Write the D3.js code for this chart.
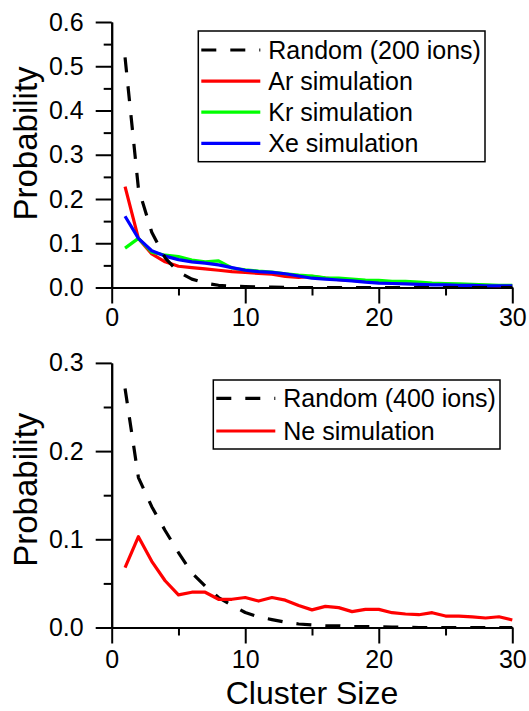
<!DOCTYPE html>
<html><head><meta charset="utf-8">
<script src="https://cdn.jsdelivr.net/npm/d3@7"></script>
<style>body{margin:0;background:#fff} text{font-family:"Liberation Sans",Arial,sans-serif;fill:#000}</style>
</head><body><svg id="c" width="529" height="711"></svg>
<script>
const clusterSizes = d3.range(1, 31);
const random200 = [0.52,0.224,0.125,0.067,0.035,0.019,0.010,0.005,0.003,0.002,0.001,0.001,0.0005,0,0,0,0,0,0,0,0,0,0,0,0,0,0,0,0,0];
const arSim = [0.228,0.111,0.076,0.058,0.048,0.045,0.042,0.039,0.036,0.034,0.032,0.030,0.025,0.023,0.025,0.021,0.018,0.016,0.014,0.013,0.012,0.011,0.010,0.008,0.007,0.006,0.005,0.005,0.004,0.004];
const krSim = [0.089,0.111,0.080,0.073,0.070,0.062,0.058,0.060,0.044,0.040,0.037,0.035,0.031,0.028,0.026,0.022,0.021,0.019,0.017,0.016,0.014,0.014,0.012,0.010,0.009,0.008,0.007,0.006,0.005,0.005];
const xeSim = [0.161,0.111,0.083,0.071,0.063,0.058,0.055,0.051,0.045,0.039,0.036,0.034,0.031,0.026,0.021,0.019,0.017,0.015,0.012,0.010,0.009,0.008,0.007,0.006,0.006,0.005,0.005,0.004,0.004,0.004];
const random400 = [0.271,0.170,0.137,0.110,0.085,0.062,0.047,0.034,0.025,0.017,0.012,0.009,0.006,0.004,0.003,0.002,0.002,0.001,0.001,0.001,0.0005,0.0005,0,0,0,0,0,0,0,0];
const neSim = [0.068,0.103,0.075,0.053,0.037,0.040,0.040,0.032,0.032,0.034,0.030,0.034,0.031,0.025,0.020,0.024,0.0225,0.018,0.0206,0.0206,0.0168,0.0153,0.0145,0.0168,0.013,0.013,0.012,0.0108,0.0122,0.0085];
const xTickLabels = [0, 10, 20, 30];
const yTicksTop = [0, 0.1, 0.2, 0.3, 0.4, 0.5, 0.6];
const yTicksBottom = [0, 0.1, 0.2, 0.3];
const legendTop = ["Random (200 ions)", "Ar simulation", "Kr simulation", "Xe simulation"];
const legendBottom = ["Random (400 ions)", "Ne simulation"];

const svg = d3.select("#c");
const FONT = '"Liberation Sans",Arial,sans-serif';

function panel(o) {
  const x = d3.scaleLinear().domain([0, 30]).range([111.7, 512.3]);
  const y = d3.scaleLinear().domain([0, o.yMax]).range([o.y0, o.y1]);
  const g = svg.append("g");
  const minorX = d3.range(0, 31, 5).filter(v => v % 10 !== 0);
  const minorY = d3.range(0, o.yMax + 1e-9, 0.05).filter(v => Math.round(v * 100) % 10 !== 0);
  g.append("g").attr("transform", `translate(0,${o.y0})`)
    .call(d3.axisBottom(x).tickValues(xTickLabels).tickSize(16).tickSizeOuter(0).tickPadding(o.xPad).tickFormat(d3.format("d")));
  g.append("g").attr("transform", `translate(0,${o.y0})`)
    .call(d3.axisBottom(x).tickValues(minorX).tickSize(8).tickSizeOuter(0).tickFormat(""));
  g.append("g").attr("transform", `translate(111.7,0)`)
    .call(d3.axisLeft(y).tickValues(o.yTicks).tickSize(16).tickSizeOuter(0).tickPadding(12).tickFormat(d3.format(".1f")));
  g.append("g").attr("transform", `translate(111.7,0)`)
    .call(d3.axisLeft(y).tickValues(minorY).tickSize(8).tickSizeOuter(0).tickFormat(""));
  g.selectAll(".domain").attr("stroke", "#000").attr("stroke-width", 2);
  g.selectAll(".tick line").attr("stroke", "#000").attr("stroke-width", 2);
  g.selectAll(".tick text").attr("font-family", FONT).attr("font-size", 25).attr("fill", "#000");

  g.append("text").attr("transform", `translate(37,${o.titleY}) rotate(-90)`)
    .attr("text-anchor", "middle").attr("font-size", 33).attr("font-family", FONT).text("Probability");

  const line = d3.line().x((d, i) => x(clusterSizes[i])).y(d => y(d));
  o.series.forEach(s => {
    g.append("path").datum(s.values).attr("d", line).attr("fill", "none")
      .attr("stroke", s.color).attr("stroke-width", 3.2)
      .attr("stroke-linejoin", "round")
      .attr("stroke-dasharray", s.dash || null);
  });

  const L = o.legend;
  g.append("rect").attr("x", L.x).attr("y", L.y).attr("width", L.w).attr("height", L.h)
    .attr("fill", "#fff").attr("stroke", "#000").attr("stroke-width", 1.5);
  o.series.slice().sort((a, b) => a.order - b.order).forEach((s, i) => {
    const yy = L.first + i * L.step;
    g.append("line").attr("x1", L.x + 3).attr("x2", L.x + 62).attr("y1", yy).attr("y2", yy)
      .attr("stroke", s.color).attr("stroke-width", 3.2).attr("stroke-dasharray", s.dash ? "15,14" : null);
    g.append("text").attr("x", L.x + 70).attr("y", yy + 8.5).attr("font-size", 25)
      .attr("font-family", FONT).text(s.label);
  });
}

panel({
  y0: 287.5, y1: 22, yMax: 0.6, yTicks: yTicksTop, xPad: 5, titleY: 143.5,
  series: [
    {values: arSim, color: "#ff0000", label: legendTop[1], order: 1},
    {values: krSim, color: "#00ff00", label: legendTop[2], order: 2},
    {values: xeSim, color: "#0000ff", label: legendTop[3], order: 3},
    {values: random200, color: "#000", dash: "15,14", label: legendTop[0], order: 0}
  ],
  legend: {x: 198.3, y: 31, w: 286.7, h: 130.7, first: 50, step: 31.1}
});

panel({
  y0: 627.5, y1: 362.9, yMax: 0.3, yTicks: yTicksBottom, xPad: 7, titleY: 489.7,
  series: [
    {values: random400, color: "#000", dash: "15,14", label: legendBottom[0], order: 0},
    {values: neSim, color: "#ff0000", label: legendBottom[1], order: 1}
  ],
  legend: {x: 213.3, y: 380, w: 286.7, h: 69, first: 398.3, step: 32.7}
});

svg.append("text").attr("x", 312).attr("y", 704).attr("text-anchor", "middle")
  .attr("font-size", 32).attr("font-family", FONT).text("Cluster Size");
</script></body></html>
